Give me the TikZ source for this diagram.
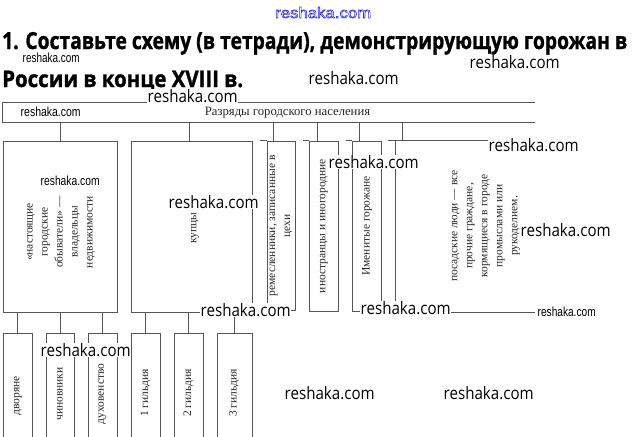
\documentclass[tikz,border=0pt]{standalone}
\usepackage{fontspec}
\usepackage{graphicx}
\setmainfont{Liberation Serif}
\newfontfamily\titlefont[BoldFeatures={FakeBold=1.3}]{Open Sans}
\newfontfamily\wmfont{Open Sans}
\newfontfamily\wmsmallfont{Liberation Sans}
\definecolor{wmblue}{RGB}{40,40,215}
\definecolor{lncol}{RGB}{85,85,85}
\definecolor{txcol}{RGB}{40,40,40}
\newcommand\wmL[3]{\node[wmk, anchor=base west] (#1) at (#2,#3) {\resizebox{90pt}{13pt}{\wmfont reshaka.com}};}
\newcommand\wmS[4]{\node[wmk, anchor=base west] (#1) at (#2,#3) {\resizebox{#4}{9.5pt}{\wmsmallfont reshaka.com}};}
\begin{document}
\begin{tikzpicture}[x=1pt,y=-1pt,
  ln/.style={draw=lncol, line width=0.8pt},
  boxn/.style={ln, inner sep=0pt},
  vtext/.style={rotate=90, align=center, text=txcol, inner sep=0pt,
    font=\fontsize{11.5}{15}\selectfont},
  htext/.style={text=txcol, inner sep=0pt, font=\fontsize{12.7}{15}\selectfont},
  wmk/.style={fill=white, inner xsep=0.5pt, inner ysep=0.3pt, text=black},
]
\fill[white] (0,0) rectangle (644,436);
\clip (0,0) rectangle (644,436);

% title
\node[anchor=base west, inner sep=0pt] (t1) at (2,49)
  {\resizebox{625pt}{17pt}{\titlefont\bfseries 1. Составьте схему (в тетради), демонстрирующую горожан в}};
\node[anchor=base west, inner sep=0pt] (t2) at (2,87)
  {\resizebox{241pt}{16.3pt}{\titlefont\bfseries России в конце XVIII в.}};

% header
\node[inner sep=0pt, minimum width=532pt, minimum height=19pt] (hdr) at (269,112.5) {};
\draw[ln] (hdr.north east) -- (hdr.north west) -- (hdr.south west) -- (hdr.south east);
\node[htext] (hdrt) at (287.5,112.5) {Разряды городского населения};

% level 1 boxes
\node[boxn, minimum width=114pt, minimum height=171pt] (b1) at (60,226.5) {};
\node[boxn, minimum width=121pt, minimum height=171pt] (b2) at (191.5,226.5) {};
\node[boxn, minimum width=28pt, minimum height=169pt] (b3) at (281,225.5) {};
\node[boxn, minimum width=29pt, minimum height=170pt] (b4) at (323.5,226) {};
\node[boxn, minimum width=29pt, minimum height=170pt] (b5) at (366.5,226) {};
\node[inner sep=0pt, minimum width=139pt, minimum height=171pt] (b6) at (465.5,226.5) {};
\draw[ln] (b3.north west) -- ++(-7,0);
\draw[ln] (b4.north west) -- ++(-6,0);
\draw[ln] (b5.north west) -- ++(-6,0);
\draw[ln] (b6.north east) -- (b6.north west) -- ++(-8,0);
\draw[ln] (b6.north west) -- (b6.south west) -- (b6.south east);

% connector points on box tops
\coordinate (k2) at (189,141);
\coordinate (k3) at (273,141);
\coordinate (k4) at (317,141);
\coordinate (k5) at (359,141);
\coordinate (k6) at (402,141);
\draw[ln] (b1.north |- hdr.south) -- (b1.north);
\foreach \k in {k2,k3,k4,k5,k6} \draw[ln] (\k |- hdr.south) -- (\k);

% level 1 texts
\node[vtext] (b1t) at (61,232) {«настоящие\\городские\\обыватели» —\\владельцы\\недвижимости};
\node[vtext] (b2t) at (195,228) {купцы};
\node[vtext] (b3t) at (281,226) {ремесленники, записанные в\\цехи};
\node[vtext] (b4t) at (324,226) {иностранцы и иногородние};
\node[vtext] (b5t) at (367,226) {Именитые горожане};
\node[vtext] (b6t) at (486,226) {посадские люди — все\\прочие граждане,\\кормящиеся в городе\\промыслами или\\рукоделием.};

% level 2 boxes
\node[boxn, minimum width=29pt, minimum height=112pt] (s1) at (17.5,389) {};
\node[boxn, minimum width=28pt, minimum height=112pt] (s2) at (60,389) {};
\node[boxn, minimum width=29pt, minimum height=112pt] (s3) at (102.5,389) {};
\node[boxn, minimum width=29pt, minimum height=112pt] (s4) at (145.5,389) {};
\node[boxn, minimum width=29pt, minimum height=112pt] (s5) at (188.5,389) {};
\node[boxn, minimum width=35pt, minimum height=112pt] (s6) at (234.5,389) {};
\foreach \s in {s1,s2,s3} \draw[ln] (\s.north |- b1.south) -- (\s.north);
\foreach \s in {s4,s5,s6} \draw[ln] (\s.north |- b2.south) -- (\s.north);
\node[vtext] (s1t) at (18,396) {дворяне};
\node[vtext] (s2t) at (60,394) {чиновники};
\node[vtext] (s3t) at (102.5,394) {духовенство};
\node[vtext] (s4t) at (145.5,393) {1 гильдия};
\node[vtext] (s5t) at (188.5,393) {2 гильдия};
\node[vtext] (s6t) at (234,393) {3 гильдия};

% watermarks
\wmL{wm1}{308}{84.5}
\wmL{wm2}{147}{102}
\wmL{wm3}{469}{68.5}
\wmL{wm4}{168}{208.5}
\wmL{wm5}{200}{316.5}
\wmL{wm6}{328}{168.5}
\wmL{wm7}{488}{151.5}
\wmL{wm8}{520}{236.5}
\wmL{wm9}{360}{314.5}
\wmL{wm10}{40}{356.5}
\wmL{wm11}{284}{399.5}
\wmL{wm12}{443}{399.5}
\wmS{wm13}{22}{62.5}{57pt}
\wmS{wm14}{20}{116}{60pt}
\wmS{wm15}{40}{185}{59pt}
\wmS{wm16}{537}{316}{58pt}
\node[anchor=base west, inner sep=0pt, text=wmblue] (wm0) at (275,18)
  {\resizebox{96pt}{11pt}{\special{pdf:literal direct 1 Tr 0.35 w}\wmsmallfont reshaka.com\special{pdf:literal direct 0 Tr}}};
\end{tikzpicture}
\end{document}
